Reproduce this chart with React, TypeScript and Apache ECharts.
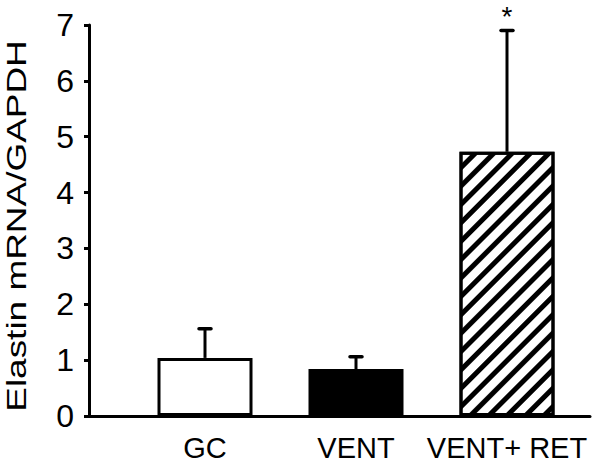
import React, { useEffect, useRef } from "react";
import * as echarts from "echarts";

const categories = ["GC", "VENT", "VENT+ RET"];
const means = [1.04, 0.84, 4.73];
const sds = [0.52, 0.22, 2.17];
const markers = ["", "", "*"];
const yTicks = [0, 1, 2, 3, 4, 5, 6, 7];
const yTitle = "Elastin mRNA/GAPDH";

const FONT = "'Liberation Sans', Arial, Helvetica, sans-serif";

export default function App() {
  const ref = useRef<HTMLDivElement>(null);
  useEffect(() => {
    if (!ref.current) return;
    const chart = echarts.init(ref.current, null, { renderer: "svg" });
    const top = 25;
    const bottom = 48;
    const option: any = {
      animation: false,
      backgroundColor: "#ffffff",
      grid: [
        { left: 89, right: 10, top, bottom, outerBoundsMode: "none", containLabel: false },
        { left: 129.5, right: 17.5, top, bottom, outerBoundsMode: "none", containLabel: false },
      ],
      xAxis: [
        {
          gridIndex: 0,
          type: "value",
          min: 0,
          max: 1,
          axisLine: { show: true, onZero: false, lineStyle: { color: "#000", width: 3 } },
          axisTick: { show: false },
          axisLabel: { show: false },
          splitLine: { show: false },
        },
        {
          gridIndex: 1,
          type: "category",
          data: categories,
          axisLine: { show: false },
          axisTick: { show: false },
          axisLabel: {
            color: "#000",
            fontSize: 29,
            lineHeight: 22,
            fontFamily: FONT,
            margin: 21,
            interval: 0,
          },
        },
      ],
      yAxis: [
        {
          gridIndex: 0,
          type: "value",
          min: yTicks[0],
          max: yTicks[yTicks.length - 1],
          interval: 1,
          axisLine: { show: true, lineStyle: { color: "#000", width: 3 } },
          axisTick: { show: true, inside: false, length: 5, lineStyle: { color: "#000", width: 3 } },
          axisLabel: { color: "#000", fontSize: 32, fontFamily: FONT, margin: 15 },
          splitLine: { show: false },
        },
        {
          gridIndex: 1,
          type: "value",
          min: yTicks[0],
          max: yTicks[yTicks.length - 1],
          interval: 1,
          show: false,
        },
      ],
      series: [
        {
          type: "bar",
          xAxisIndex: 1,
          yAxisIndex: 1,
          barWidth: 95,
          data: means.map((v, i) => {
            const base: any = {
              value: v,
              itemStyle: { borderColor: "#000", borderWidth: 3, color: "#ffffff" },
            };
            if (i === 1) base.itemStyle.color = "#000000";
            if (i === 2) {
              base.itemStyle.decal = {
                symbol: "rect",
                symbolSize: 1,
                dashArrayX: [1, 0],
                dashArrayY: [5, 7.5],
                rotation: -Math.PI / 4,
                color: "#000000",
                backgroundColor: "#ffffff",
              };
            }
            return base;
          }),
        },
        {
          type: "custom",
          xAxisIndex: 1,
          yAxisIndex: 1,
          z: 5,
          data: means.map((m, i) => [i, m, m + sds[i]]),
          renderItem: (params: any, api: any) => {
            const idx = params.dataIndex;
            const base = api.coord([api.value(0), api.value(1)]);
            const tip = api.coord([api.value(0), api.value(2)]);
            const children: any[] = [
              {
                type: "line",
                shape: { x1: base[0], y1: base[1], x2: tip[0], y2: tip[1] },
                style: { stroke: "#000", lineWidth: 3 },
              },
              {
                type: "line",
                shape: { x1: tip[0] - 6, y1: tip[1], x2: tip[0] + 6, y2: tip[1] },
                style: { stroke: "#000", lineWidth: 3.5, lineCap: "round" },
              },
            ];
            if (markers[idx]) {
              children.push({
                type: "text",
                x: tip[0],
                y: tip[1] - 14,
                style: {
                  text: markers[idx],
                  fontSize: 28,
                  lineHeight: 24,
                  fontFamily: FONT,
                  fill: "#000",
                  align: "center",
                  verticalAlign: "middle",
                },
              });
            }
            return { type: "group", children };
          },
        },
      ],
      graphic: [
        {
          type: "text",
          x: 16,
          y: 226,
          rotation: Math.PI / 2,
          scaleX: 1.32,
          style: {
            text: yTitle,
            fontSize: 28,
            lineHeight: 24,
            fontFamily: FONT,
            fill: "#000",
            align: "center",
            verticalAlign: "middle",
          },
        },
      ],
    };
    chart.setOption(option);
    return () => chart.dispose();
  }, []);
  return <div ref={ref} style={{ width: 600, height: 464, position: "absolute", left: 0, top: 0 }} />;
}
